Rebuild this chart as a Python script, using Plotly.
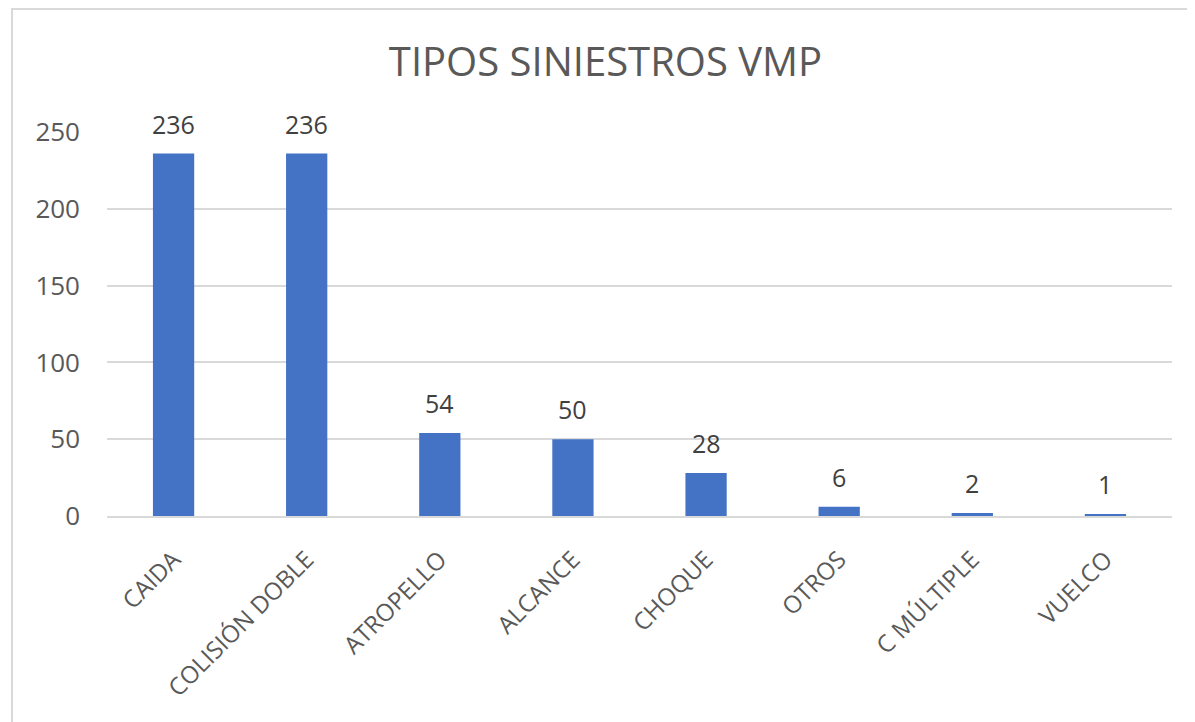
import plotly.graph_objects as go

categories = ["CAIDA", "COLISIÓN DOBLE", "ATROPELLO", "ALCANCE", "CHOQUE", "OTROS", "C MÚLTIPLE", "VUELCO"]
values = [236, 236, 54, 50, 28, 6, 2, 1]
y_ticks = [0, 50, 100, 150, 200, 250]

W, H = 1195, 722
L, R, T, B = 99, 31, 124, 214
pw, ph = W - L - R, H - T - B

fig = go.Figure(go.Bar(
    x=categories, y=values,
    marker=dict(color="#4472C4", line=dict(width=0)),
    width=0.31,
))

for c, v in zip(categories, values):
    fig.add_annotation(x=c, y=v, text=str(v), showarrow=False, yanchor="middle", yshift=30,
                       font=dict(family="Open Sans", size=25, color="#404040"))

fig.update_layout(
    width=W, height=H,
    margin=dict(l=L, r=R, t=T, b=B, autoexpand=False),
    paper_bgcolor="white", plot_bgcolor="white",
    title=dict(text="TIPOS SINIESTROS VMP", x=0.5, xref="container", xanchor="center",
               y=1 - 54 / H, yanchor="middle",
               font=dict(family="Open Sans", size=40, color="#595959")),
    font=dict(family="Open Sans", color="#595959"),
    showlegend=False,
    shapes=[dict(type="rect", xref="paper", yref="paper",
                 x0=(4 - L) / pw, x1=(W + 20 - L) / pw,
                 y0=(T + ph - (H + 20)) / ph, y1=(T + ph - 1) / ph,
                 line=dict(color="#D9D9D9", width=2), fillcolor="rgba(0,0,0,0)", layer="below")],
)
fig.update_yaxes(range=[0, 250], tickvals=y_ticks, showgrid=True, gridcolor="#D9D9D9", gridwidth=1.5,
                 zeroline=False, showline=False, ticks="", ticklen=0,
                 tickfont=dict(family="Open Sans", size=26, color="#595959"), ticklabelstandoff=26)
fig.update_xaxes(showline=True, linecolor="#D9D9D9", linewidth=2, tickangle=-45, ticks="",
                 tickfont=dict(family="Open Sans", size=24, color="#595959"), ticklabelstandoff=18)

fig.write_html("out.html")
